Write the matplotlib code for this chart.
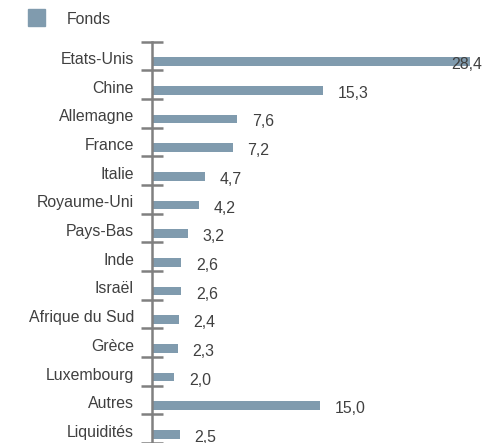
import matplotlib
matplotlib.use("Agg")
import matplotlib.pyplot as plt
from matplotlib.patches import Rectangle

# Données
pays = ["Etats-Unis", "Chine", "Allemagne", "France", "Italie", "Royaume-Uni",
        "Pays-Bas", "Inde", "Israël", "Afrique du Sud", "Grèce", "Luxembourg",
        "Autres", "Liquidités"]
valeurs = [28.4, 15.3, 7.6, 7.2, 4.7, 4.2, 3.2, 2.6, 2.6, 2.4, 2.3, 2.0, 15.0, 2.5]
serie = "Fonds"

couleur_barre = "#809bae"
couleur_texte = "#404040"
couleur_axe = "#808080"

plt.rcParams['font.family'] = ['Liberation Sans', 'DejaVu Sans']

W, H = 497, 443
fig = plt.figure(figsize=(W / 100, H / 100), dpi=100)

# axe : ligne verticale à x=152 px, premier trait à y=41.5 px
x0, y_top = 152, 41.5
ax = fig.add_axes([x0 / W, 0, 1 - x0 / W, 1 - y_top / H])
px_par_unite = 11.2
pas = 28.75
xmax = (W - x0) / px_par_unite
ax.set_xlim(0, xmax)
ax.set_ylim(-0.7 + (H - y_top) / pas, -0.7)

pos = list(range(len(pays)))
ax.barh(pos, valeurs, height=0.3, color=couleur_barre)

for s in ["top", "right", "bottom"]:
    ax.spines[s].set_visible(False)
ax.spines["left"].set_color(couleur_axe)
ax.spines["left"].set_linewidth(1.8)
ax.set_xticks([])
ax.set_yticks([p - 0.7 for p in range(len(pays) + 1)])
ax.set_yticklabels([])
ax.tick_params(axis="y", direction="inout", length=16, width=1.8, color=couleur_axe)

fs = 11.4
for p, nom, v in zip(pos, pays, valeurs):
    ax.annotate(nom, xy=(0, p - 0.07), xytext=(-13, 0), textcoords="offset points",
                ha="right", va="center", fontsize=fs, color=couleur_texte)
    txt = f"{v:.1f}".replace(".", ",")
    if v + 1.3 + 2.7 > xmax:
        ax.annotate(txt, xy=(xmax, p), xytext=(-11, -2.2), textcoords="offset points",
                    ha="right", va="center", fontsize=fs, color=couleur_texte,
                    annotation_clip=False)
    else:
        ax.annotate(txt, xy=(v, p), xytext=(10.6, -2.2), textcoords="offset points",
                    ha="left", va="center", fontsize=fs, color=couleur_texte)

# légende
fig.add_artist(Rectangle((28 / W, 1 - 25.7 / H), 17 / W, 16.4 / H,
                         transform=fig.transFigure, color=couleur_barre))
fig.text(66.7 / W, 1 - 19 / H, serie, ha="left", va="center", fontsize=fs,
         color=couleur_texte)

fig.savefig("out.png", dpi=100)
